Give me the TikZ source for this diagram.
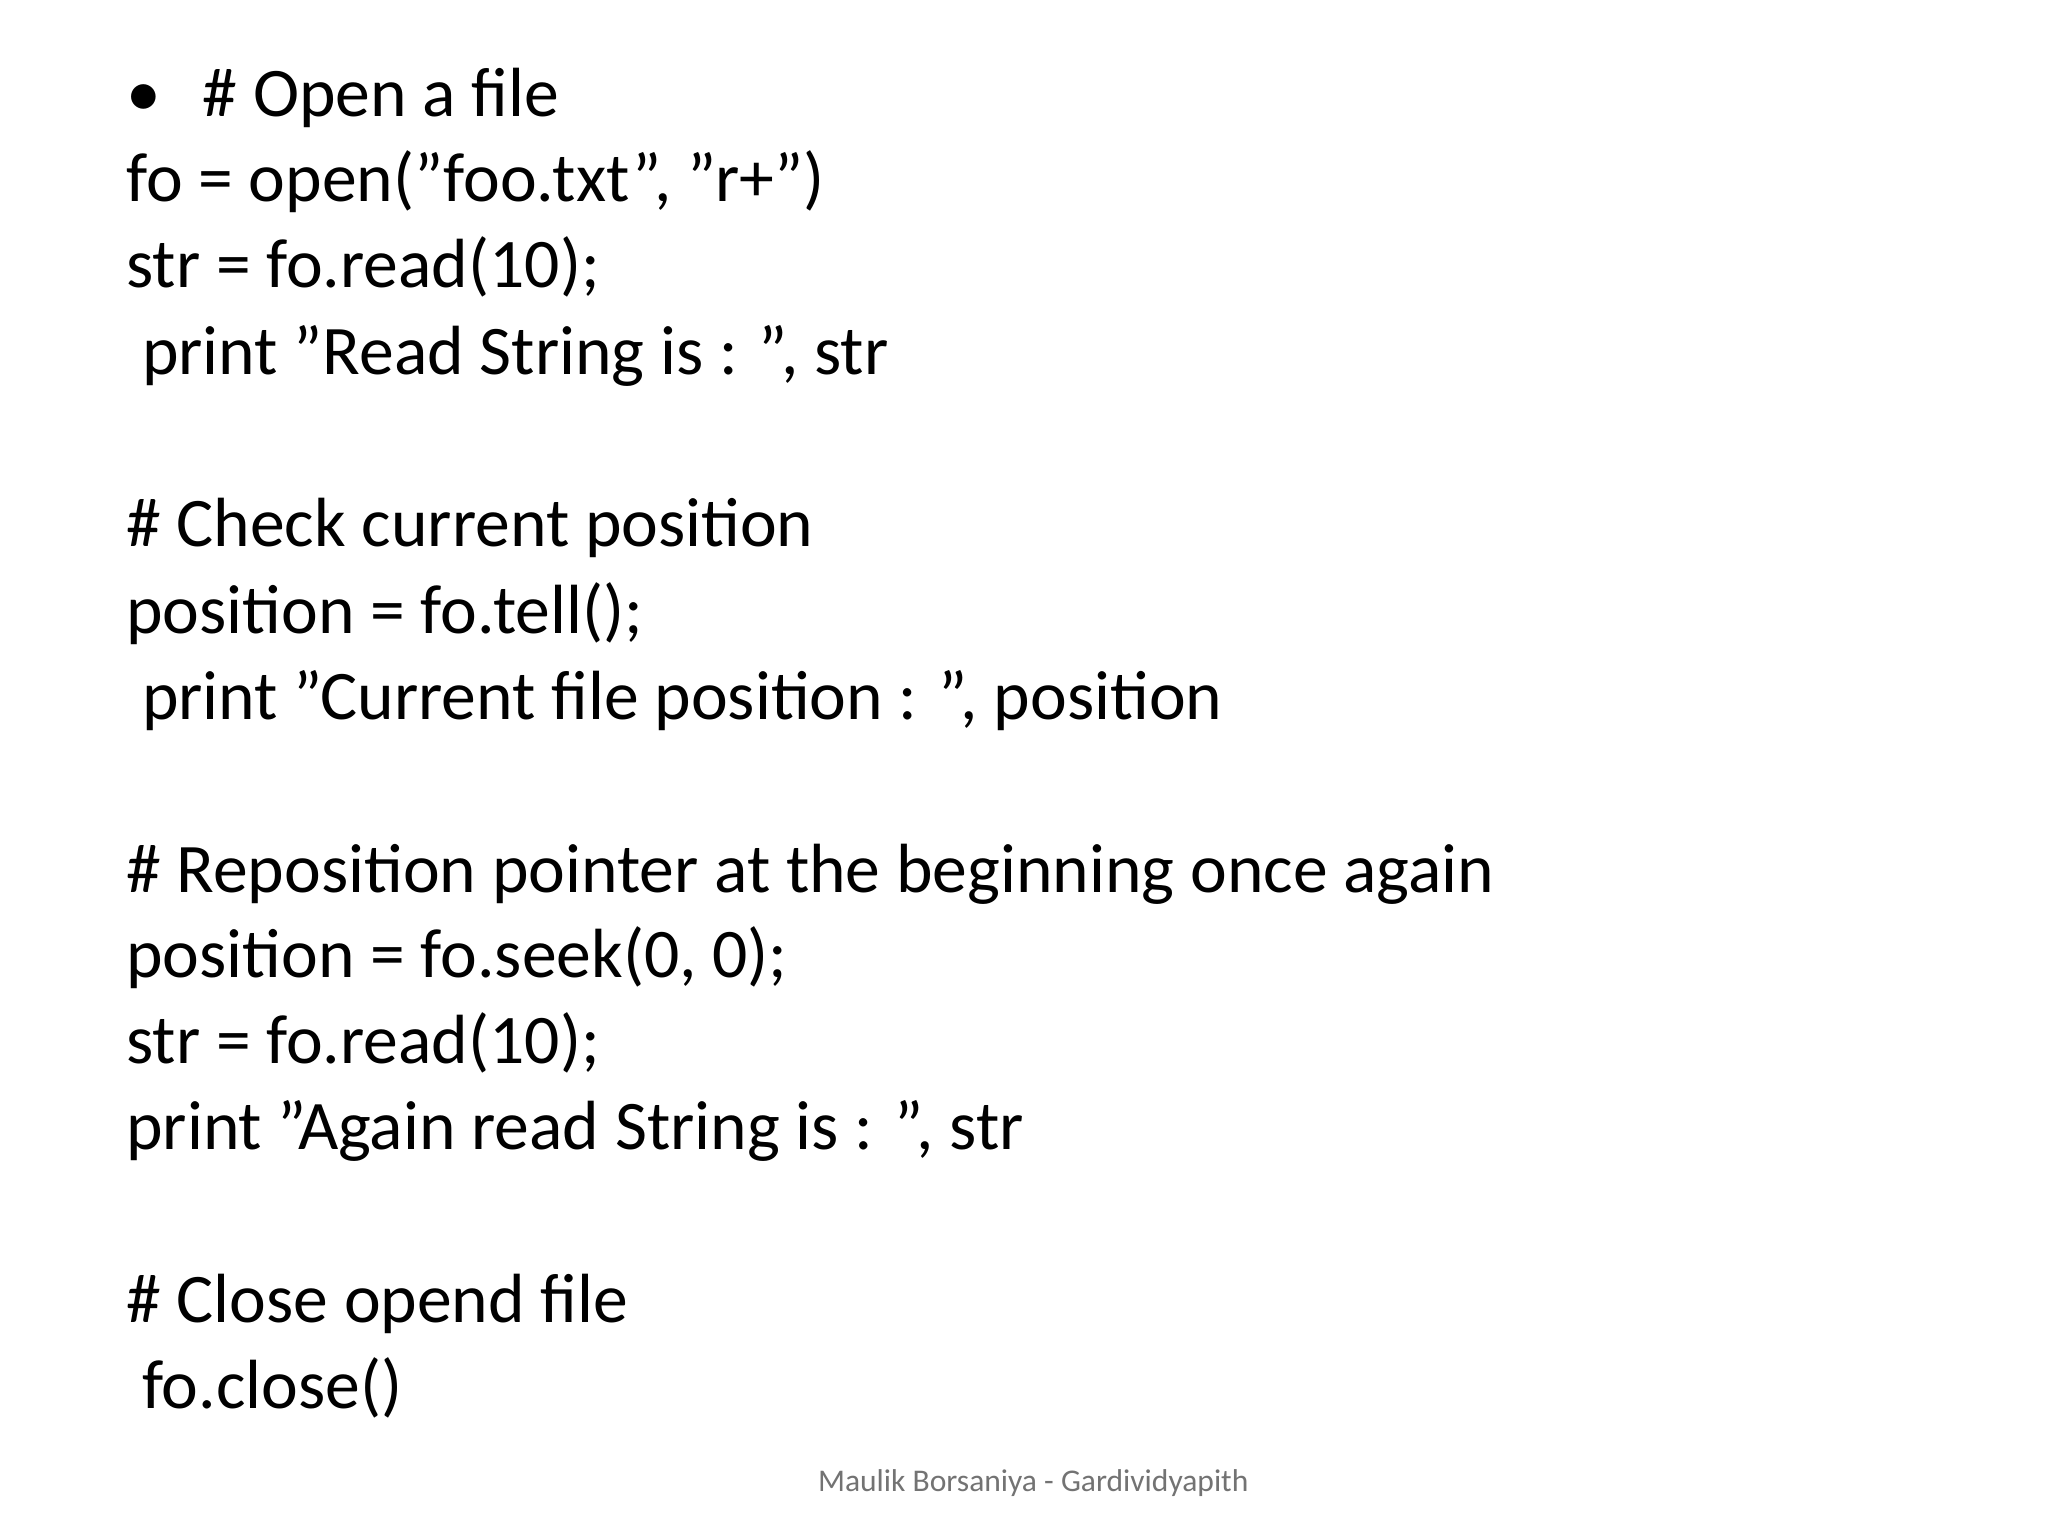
\documentclass[tikz,border=0pt]{standalone}
\usepackage{fontspec}
\setmainfont{Carlito}
\begin{document}
\begin{tikzpicture}[x=0.01cm,y=-0.01cm,
  code/.style={anchor=base west,inner sep=0pt,font=\fontsize{15pt}{18pt}\selectfont,text=black}]
\useasboundingbox (0,0) rectangle (1552,1164);
\fill[white] (0,0) rectangle (1552,1164);
\node[code] (b) at (95,88) {•};
\node[code] (l1) at (153,88) {\# Open a file};
\node[code] (l2) at (95,153) {fo = open("foo.txt", "r+")};
\node[code] (l3) at (95,218) {str = fo.read(10);};
\node[code] (l4) at (107,284) {print "Read String is : ", str};
\node[code] (l5) at (95,414) {\# Check current position};
\node[code] (l6) at (95,480) {position = fo.tell();};
\node[code] (l7) at (107,545) {print "Current file position : ", position};
\node[code] (l8) at (95,676) {\# Reposition pointer at the beginning once again};
\node[code] (l9) at (95,741) {position = fo.seek(0, 0);};
\node[code] (l10) at (95,806) {str = fo.read(10);};
\node[code] (l11) at (95,871) {print "Again read String is : ", str};
\node[code] (l12) at (95,1002) {\# Close opend file};
\node[code] (l13) at (107,1067) {fo.close()};
\node[anchor=base,inner sep=0pt,font=\fontsize{6.8pt}{8pt}\selectfont,text=black!55] (f) at (783,1130) {Maulik Borsaniya - Gardividyapith};
\end{tikzpicture}
\end{document}
